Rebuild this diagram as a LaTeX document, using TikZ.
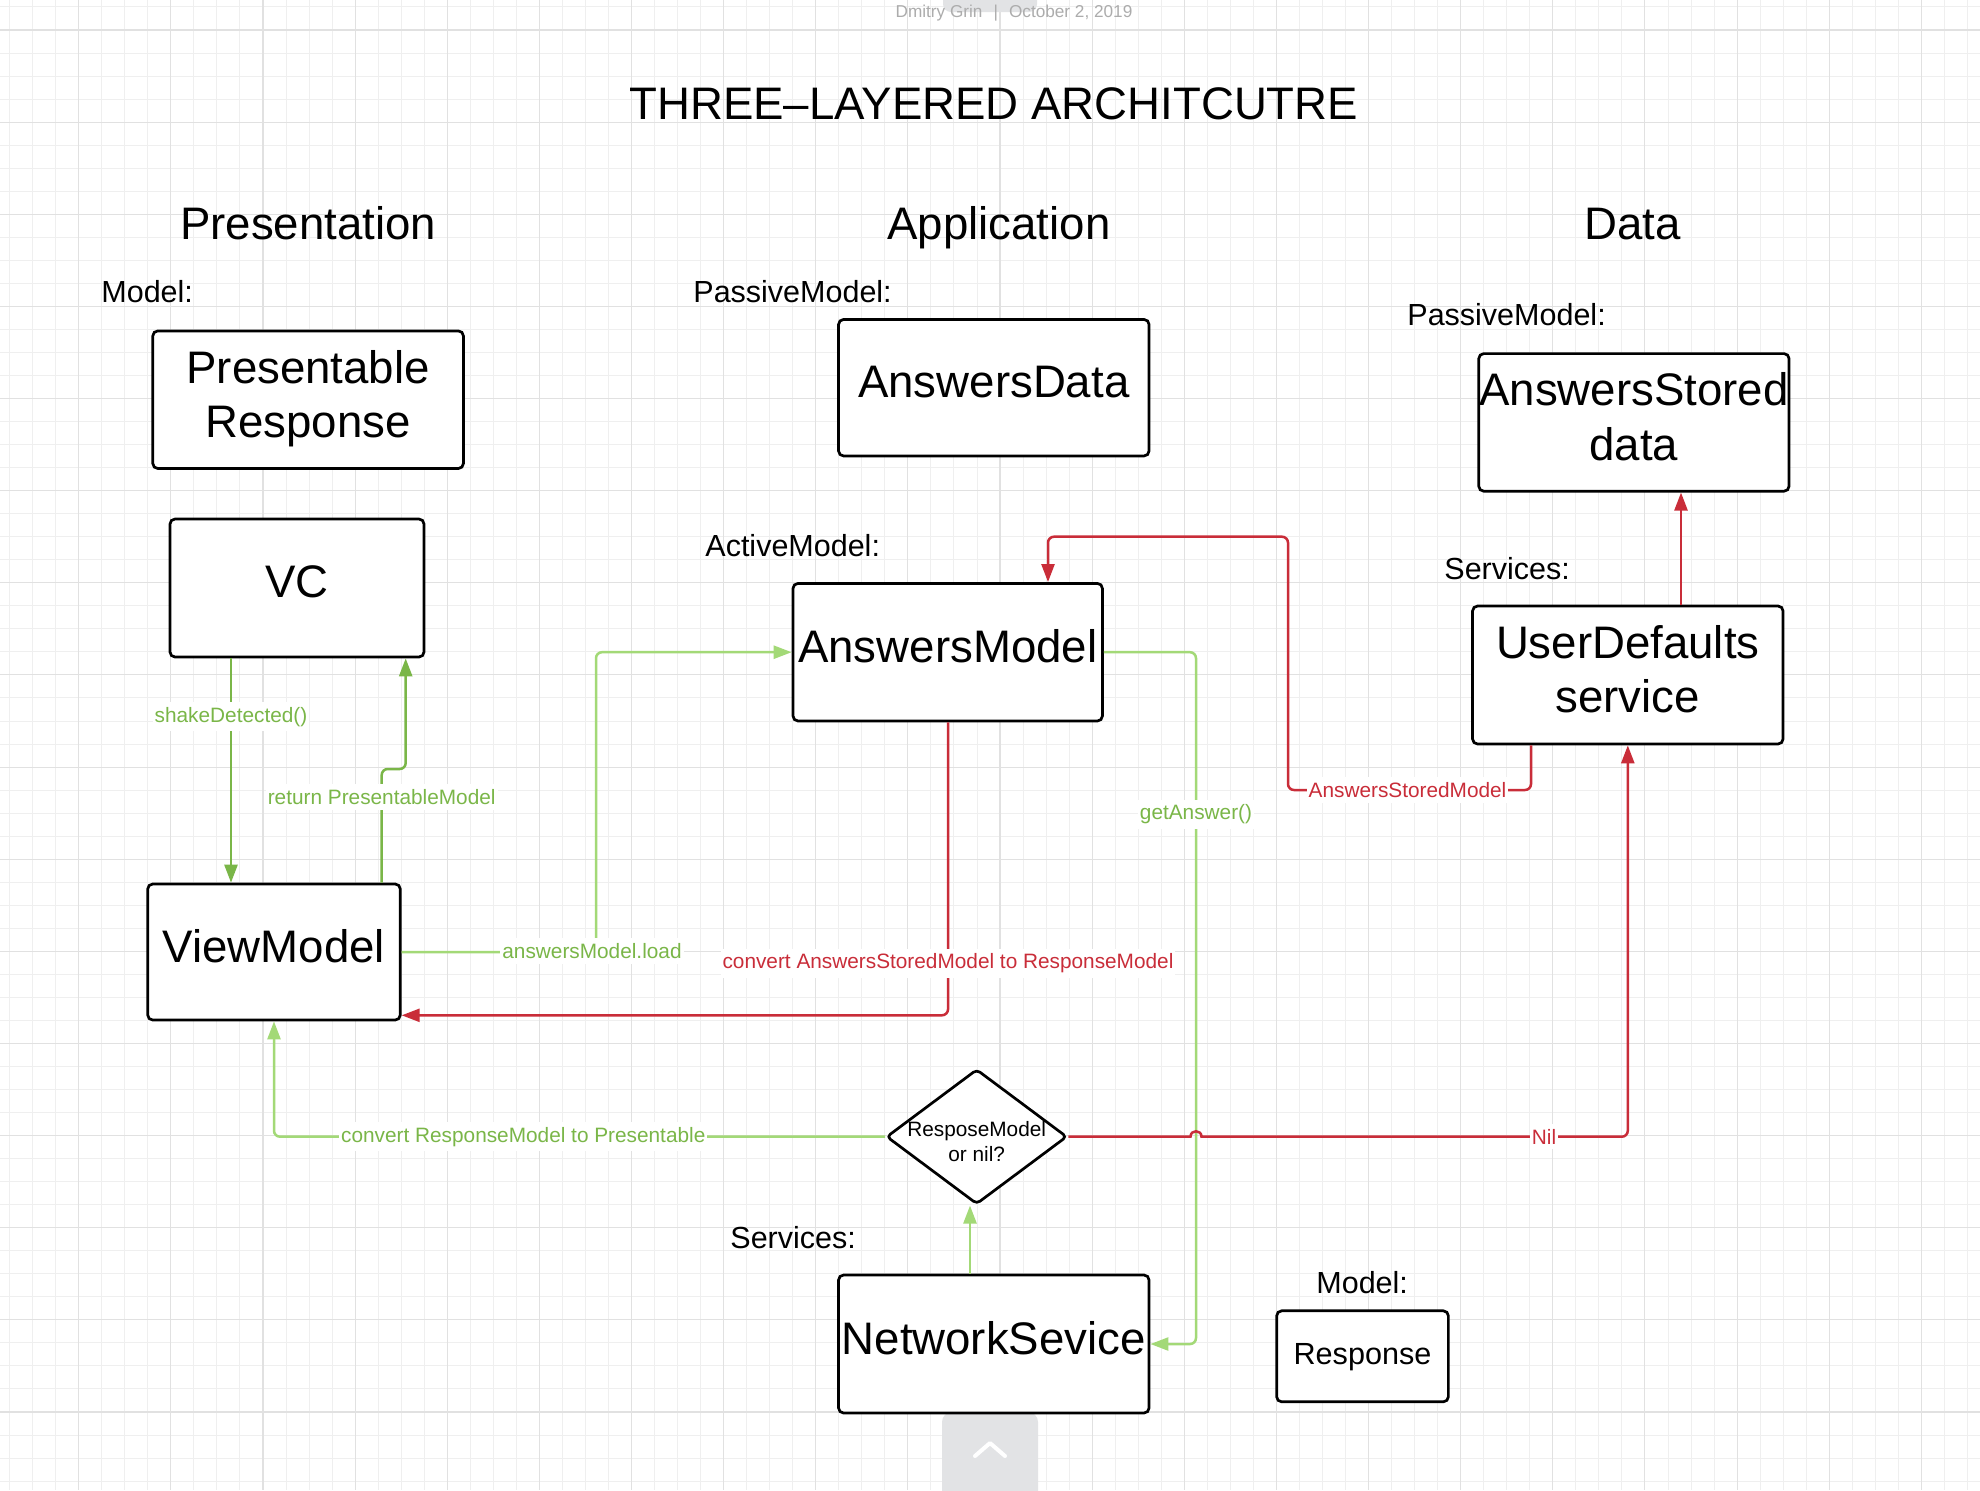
\documentclass[tikz,border=0pt]{standalone}
\usepackage{fontspec}
\setmainfont{Liberation Sans}
\usetikzlibrary{arrows.meta,shapes.geometric}
\definecolor{lcred}{RGB}{201,45,57}
\definecolor{lcgreen}{RGB}{122,182,72}
\definecolor{lclight}{RGB}{163,217,119}
\definecolor{gridminor}{RGB}{239,239,239}
\definecolor{gridmajor}{RGB}{225,225,225}
\definecolor{hdrgray}{RGB}{172,172,172}
\definecolor{btngray}{RGB}{226,227,229}
\begin{document}
\begin{tikzpicture}[x=0.5pt,y=-0.5pt,
  box/.style={draw=black, line width=1.35pt, fill=white, rounded corners=2.5pt,
    inner sep=0pt, align=center, font=\fontsize{22.8}{27.15}\selectfont, text depth=6pt},
  bigtxt/.style={font=\fontsize{22.8}{27.15}\selectfont, inner sep=0pt, anchor=base},
  lbl/.style={font=\fontsize{15.25}{18}\selectfont, inner sep=0pt, anchor=west},
  conn/.style={line width=1.25pt, rounded corners=3pt, -{Triangle[length=9pt,width=6.5pt]}},
  gconn/.style={conn, draw=lcgreen},
  lconn/.style={conn, draw=lclight},
  rconn/.style={conn, draw=lcred},
  clab/.style={font=\fontsize{10.4}{12.5}\selectfont, fill=white, inner xsep=1pt, inner ysep=2.5pt},
  glabel/.style={clab, text=lcgreen},
  rlabel/.style={clab, text=lcred}
]
% canvas
\useasboundingbox (0,0) rectangle (1980,1490);
\fill[white] (0,0) rectangle (1980,1490);
% grid
\foreach \k in {-3,...,82} \draw[gridminor, line width=0.5pt] ({78.7+23.033*\k},0) -- ({78.7+23.033*\k},1490);
\foreach \k in {-1,...,64} \draw[gridminor, line width=0.5pt] (0,{30+23.033*\k}) -- (1980,{30+23.033*\k});
\foreach \k in {0,...,20} \draw[gridmajor, line width=0.55pt] ({78.7+92.13*\k},0) -- ({78.7+92.13*\k},1490);
\foreach \k in {0,...,15} \draw[gridmajor, line width=0.55pt] (0,{30+92.13*\k}) -- (1980,{30+92.13*\k});

% UI artefacts
\fill[btngray, rounded corners=4pt] (943,-20) rectangle (1037,12);
\fill[btngray, rounded corners=5pt] (942,1412) rectangle (1038,1520);
\draw[white, line width=2pt, line cap=round, line join=round] (975,1456) -- (990,1443) -- (1005,1456);

% header and titles
\node[font=\fontsize{8.6}{10}\selectfont, text=hdrgray, inner sep=0pt] (author) at (1014,13)
  {Dmitry Grin\hspace{5.5pt}|\hspace{5.5pt}October 2, 2019};
\node[bigtxt] (title) at (993.8,119.8) {THREE–LAYERED ARCHITCUTRE};
\node[bigtxt] (hpres) at (308.1,239.8) {Presentation};
\node[bigtxt] (happ) at (998.9,239.8) {Application};
\node[bigtxt] (hdata) at (1632.8,239.8) {Data};

% section labels
\node[lbl] (lmodel1) at (101,291.7) {Model:};
\node[lbl] (lpassive1) at (693,291.7) {PassiveModel:};
\node[lbl] (lpassive2) at (1407,314.4) {PassiveModel:};
\node[lbl] (lactive) at (705,545.5) {ActiveModel:};
\node[lbl] (lserv1) at (1444,568.3) {Services:};
\node[lbl] (lserv2) at (730,1237.5) {Services:};
\node[lbl] (lmodel2) at (1316,1283) {Model:};

% boxes
\node[box, minimum width=155.3pt, minimum height=68.8pt] (presresp) at (308.1,399.7) {Presentable\\Response};
\node[box, minimum width=127pt, minimum height=69pt] (vc) at (297,588) {VC};
\node[box, minimum width=126.3pt, minimum height=68pt] (viewmodel) at (274,952) {ViewModel};
\node[box, minimum width=155.25pt, minimum height=68.25pt] (answersdata) at (993.8,387.7) {AnswersData};
\node[box, minimum width=154.7pt, minimum height=68.8pt] (answersmodel) at (947.7,652.2) {AnswersModel};
\node[box, minimum width=155.25pt, minimum height=69pt] (network) at (993.8,1344) {NetworkSevice};
\node[box, minimum width=155.25pt, minimum height=69pt] (userdef) at (1627.8,675) {UserDefaults\\service};
\node[box, minimum width=155.15pt, minimum height=68.8pt] (stored) at (1633.9,422.4) {AnswersStored\\data};
\node[box, font=\fontsize{15.3}{18}\selectfont, text depth=2pt, minimum width=85.85pt, minimum height=45.5pt] (response) at (1362.5,1356.3) {Response};
\node[diamond, draw=black, line width=1.35pt, fill=white, rounded corners=2pt,
  minimum width=90.35pt, minimum height=67.5pt, inner sep=0pt] (dec) at (976.7,1136.7) {};
\node[font=\fontsize{10.4}{12.5}\selectfont, align=center, inner sep=0pt] (dectext) at (976.7,1141.5) {ResposeModel\\or nil?};

% connectors
\draw[gconn] (231,0 |- vc.south) -- (231,0 |- viewmodel.north);
\draw[gconn] (381.7,0 |- viewmodel.north) -- (381.7,769) -- (405.7,769) -- (405.7,0 |- vc.south);
\draw[lconn] (viewmodel.east) -- (596,0 |- viewmodel.east) -- (596,0 |- answersmodel.west) -- (answersmodel.west);
\draw[lconn] (answersmodel.east) -- (1196,0 |- answersmodel.east) -- (1196,0 |- network.east) -- (network.east);
\draw[lconn] (970,0 |- network.north) -- (970,0 |- dec.south);
\draw[lconn] (dec.west) -- (274,0 |- dec.west) -- (viewmodel.south);
\draw[rconn, sharp corners] (dec.east) -- (1190.5,1136.7) .. controls (1190.5,1129.4) and (1201.5,1129.4) .. (1201.5,1136.7)
  [rounded corners=3pt] -- (userdef.south |- dec.east) -- (userdef.south);
\draw[rconn] (1681,0 |- userdef.north) -- (1681,0 |- stored.south);
\draw[rconn] (1531,0 |- userdef.south) -- (1531,790) -- (1288,790) -- (1288,536.7) -- (1048,536.7) -- (1048,0 |- answersmodel.north);
\draw[rconn] (948,0 |- answersmodel.south) -- (948,1015.3) -- (viewmodel.east |- 0,1015.3);

% connector labels
\node[glabel] (lshake) at (231,716.7) {shakeDetected()};
\node[glabel] (lreturn) at (381.7,797) {return PresentableModel};
\node[glabel] (lload) at (592,951) {answersModel.load};
\node[glabel] (lget) at (1196,814.5) {getAnswer()};
\node[glabel] (lconvg) at (523.3,1136.7) {convert ResponseModel to Presentable};
\node[rlabel] (lnil) at (1544,1136.7) {Nil};
\node[rlabel] (lstored) at (1407.5,790) {AnswersStoredModel};
\node[rlabel] (lconvr) at (948,963.5) {convert AnswersStoredModel to ResponseModel};
\end{tikzpicture}
\end{document}
